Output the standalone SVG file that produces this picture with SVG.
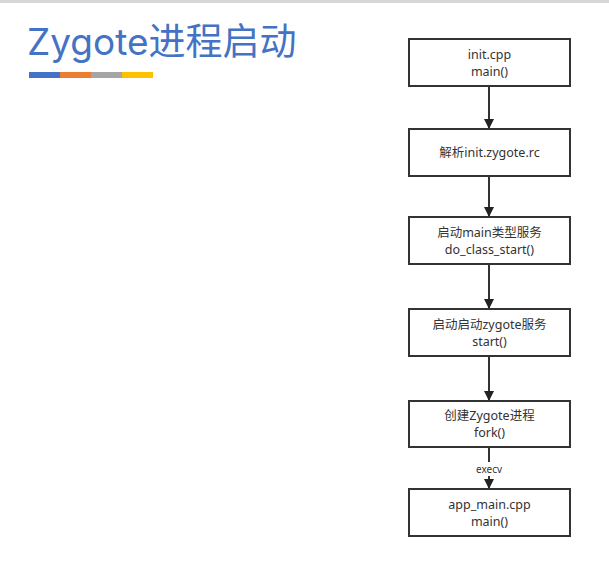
<svg xmlns="http://www.w3.org/2000/svg" width="609" height="563" viewBox="0 0 609 563">
<style>
.box{fill:#fff;stroke:#333;stroke-width:2}
.t{font-family:"Microsoft YaHei","Noto Sans","Noto Sans CJK SC",sans-serif;font-size:12.5px;fill:#333;text-anchor:middle}
.c{stroke:#333;stroke-width:2;fill:none}
</style>
<defs>
<marker id="ah" markerWidth="10" markerHeight="12" refX="9" refY="6" orient="auto" markerUnits="userSpaceOnUse">
<path d="M0,1 L10,6 L0,11 z" fill="#222"/>
</marker>
</defs>
<rect width="609" height="563" fill="#fff"/>
<rect x="0" y="0" width="609" height="3" fill="#d6d6d6"/>
<g id="title">
<text x="27" y="55" font-family="Inter,'Noto Sans','Noto Sans CJK SC',sans-serif" font-size="37" fill="#4472C4">Zygote进程启动</text>
<rect x="29" y="72" width="31" height="6" fill="#4472C4"/>
<rect x="60" y="72" width="31" height="6" fill="#ED7D31"/>
<rect x="91" y="72" width="31" height="6" fill="#A5A5A5"/>
<rect x="122" y="72" width="31" height="6" fill="#FFC000"/>
</g>
<g id="connectors">
<line class="c" x1="489" y1="86" x2="489" y2="128" marker-end="url(#ah)"/>
<line class="c" x1="489" y1="177" x2="489" y2="216" marker-end="url(#ah)"/>
<line class="c" x1="489" y1="265" x2="489" y2="308" marker-end="url(#ah)"/>
<line class="c" x1="489" y1="357" x2="489" y2="400" marker-end="url(#ah)"/>
<line class="c" x1="489" y1="448" x2="489" y2="462"/>
<line class="c" x1="489" y1="476" x2="489" y2="488" marker-end="url(#ah)"/>
<text x="489" y="473" font-family="'Noto Sans',sans-serif" font-size="10" fill="#333" text-anchor="middle">execv</text>
</g>
<g id="n1"><rect class="box" x="409" y="39" width="161" height="47"/><text class="t" x="489.5" y="59">init.cpp</text><text class="t" x="489.5" y="76">main()</text></g>
<g id="n2"><rect class="box" x="409" y="129" width="161" height="47"/><text class="t" x="489.5" y="157">解析init.zygote.rc</text></g>
<g id="n3"><rect class="box" x="409" y="217" width="161" height="47"/><text class="t" x="489.5" y="237">启动main类型服务</text><text class="t" x="489.5" y="254">do_class_start()</text></g>
<g id="n4"><rect class="box" x="409" y="309" width="161" height="47"/><text class="t" x="489.5" y="329">启动启动zygote服务</text><text class="t" x="489.5" y="346">start()</text></g>
<g id="n5"><rect class="box" x="409" y="401" width="161" height="46"/><text class="t" x="489.5" y="420">创建Zygote进程</text><text class="t" x="489.5" y="437">fork()</text></g>
<g id="n6"><rect class="box" x="409" y="489" width="161" height="47"/><text class="t" x="489.5" y="509">app_main.cpp</text><text class="t" x="489.5" y="526">main()</text></g>
</svg>
